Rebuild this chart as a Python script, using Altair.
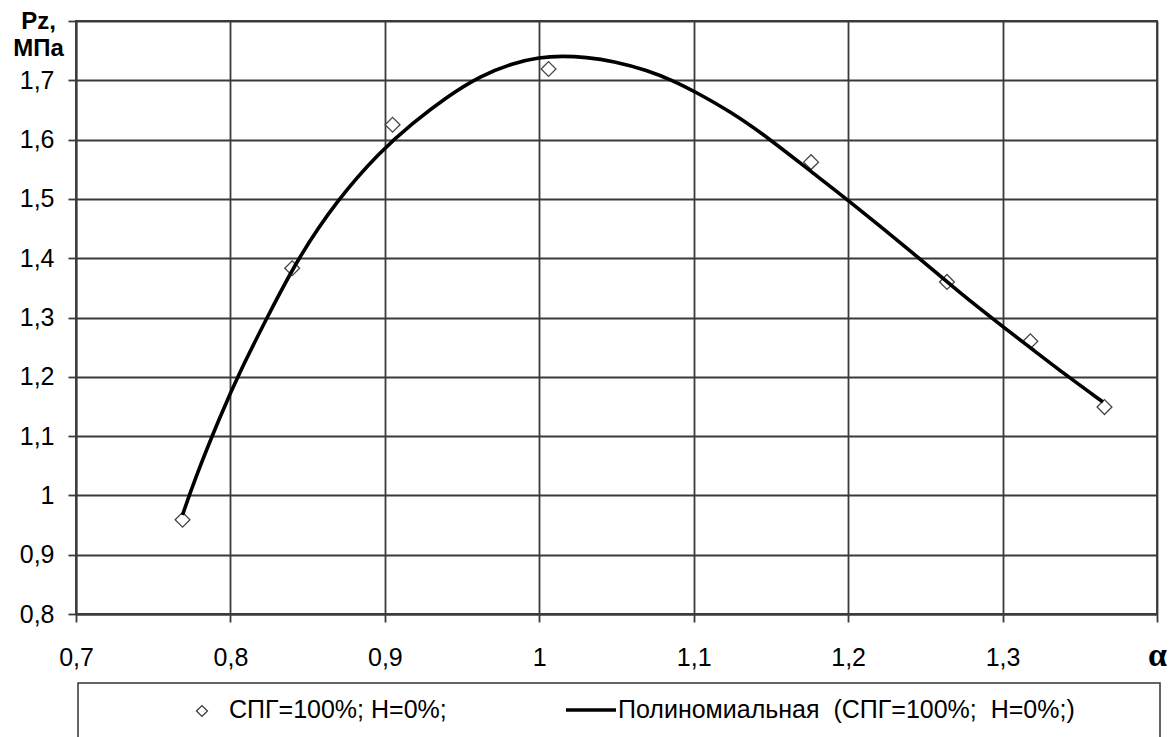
import altair as alt
import pandas as pd

# measured points (alpha, Pz)
pt_x = [0.769, 0.840, 0.905, 1.006, 1.176, 1.264, 1.318, 1.366]
pt_y = [0.959, 1.383, 1.625, 1.719, 1.562, 1.360, 1.260, 1.149]

# polynomial trend line
cx = [0.769, 0.776, 0.793, 0.8075, 0.824, 0.843, 0.869, 0.897, 0.918, 0.940,
      0.962, 0.983, 1.000, 1.015, 1.030, 1.048, 1.070, 1.087, 1.100, 1.124,
      1.148, 1.175, 1.200, 1.245, 1.2725, 1.300, 1.320, 1.342, 1.365]
cy = [0.967, 1.021, 1.132, 1.2165, 1.301, 1.397, 1.498, 1.580, 1.628, 1.672,
      1.708, 1.729, 1.739, 1.741, 1.739, 1.7325, 1.717, 1.699, 1.682, 1.647,
      1.6035, 1.548, 1.498, 1.4025, 1.341, 1.285, 1.245, 1.201, 1.1575]

x_ticks = [0.7, 0.8, 0.9, 1.0, 1.1, 1.2, 1.3, 1.4]
y_ticks = [0.8, 0.9, 1.0, 1.1, 1.2, 1.3, 1.4, 1.5, 1.6, 1.7, 1.8]

NB = "\u00a0"
legend_points = "СПГ=100%;" + NB + "Н=0%;"
legend_line = "Полиномиальная" + NB + NB + "(СПГ=100%;" + NB + NB + "Н=0%;)"

pts = pd.DataFrame({"a": pt_x, "p": pt_y})
crv = pd.DataFrame({"a": cx, "p": cy})
dummy = pd.DataFrame({"k": [0]})

GRID = "#3a3a3a"

x_enc = alt.X(
    "a:Q",
    scale=alt.Scale(domain=[0.7, 1.4], nice=False, zero=False),
    axis=alt.Axis(
        values=x_ticks,
        title=None,
        grid=True,
        labelFlush=False,
        labelOverlap=False,
        labelBaseline="alphabetic",
        labelPadding=43,
        labelExpr="datum.value > 1.35 ? 'α' : (abs(datum.value - 1) < 0.001 ? '1' : replace(format(datum.value, '.1f'), '.', ','))",
        labelFont={"condition": {"test": "datum.value > 1.35", "value": "Liberation Serif"}, "value": "Liberation Sans"},
        labelFontSize={"condition": {"test": "datum.value > 1.35", "value": 34}, "value": 25},
        labelFontWeight={"condition": {"test": "datum.value > 1.35", "value": "bold"}, "value": "normal"},
    ),
)
y_enc = alt.Y(
    "p:Q",
    scale=alt.Scale(domain=[0.8, 1.8], nice=False, zero=False),
    axis=alt.Axis(
        values=y_ticks,
        title=["Pz,", "МПа"],
        titleAngle=0,
        titleAlign="center",
        titleBaseline="top",
        titleX=-38,
        titleY=-12,
        titleFontSize=24,
        titleFontWeight="bold",
        titleLineHeight=27,
        titleColor="#000000",
        grid=True,
        labelOverlap=False,
        labelPadding=14,
        labelFontSize=25,
        labelExpr="datum.value > 1.75 ? '' : (abs(datum.value - 1) < 0.001 ? '1' : replace(format(datum.value, '.1f'), '.', ','))",
    ),
)

points = alt.Chart(pts).mark_point(
    shape="diamond", size=220, filled=True, fill="white", stroke="#454545", strokeWidth=1.3, opacity=1
).encode(x=x_enc, y=y_enc)

line = alt.Chart(crv).mark_line(color="black", strokeWidth=3.6, interpolate="basis").encode(
    x="a:Q", y="p:Q"
)

box = alt.Chart(dummy).mark_rect(fill="white", stroke="#333333", strokeWidth=1.5).encode(
    x=alt.value(2), x2=alt.value(1084), y=alt.value(662), y2=alt.value(760)
)
leg_diamond = alt.Chart(dummy).mark_point(
    shape="diamond", size=120, filled=True, fill="white", stroke="#333333", strokeWidth=1.2, opacity=1
).encode(x=alt.value(126), y=alt.value(690))
leg_text1 = alt.Chart(dummy).mark_text(
    align="left", baseline="middle", fontSize=25, font="Liberation Sans", color="#000000"
).encode(x=alt.value(153), y=alt.value(689), text=alt.value(legend_points))
leg_rule = alt.Chart(dummy).mark_rule(color="black", strokeWidth=3.5).encode(
    x=alt.value(490), x2=alt.value(540), y=alt.value(689)
)
leg_text2 = alt.Chart(dummy).mark_text(
    align="left", baseline="middle", fontSize=25, font="Liberation Sans", color="#000000"
).encode(x=alt.value(542), y=alt.value(689), text=alt.value(legend_line))

chart = alt.layer(points, line, box, leg_diamond, leg_text1, leg_rule, leg_text2).properties(
    width=1081,
    height=593,
    padding={"left": 76, "top": 21, "right": 19, "bottom": 123},
    autosize=alt.AutoSizeParams(type="none"),
    background="white",
).configure(
    font="Liberation Sans",
).configure_view(
    stroke=GRID, strokeWidth=1.8
).configure_axis(
    gridColor=GRID, gridWidth=1.8, gridOpacity=1,
    domainColor=GRID, domainWidth=1.8,
    tickColor=GRID, tickWidth=1.8, tickSize=8,
    labelColor="#000000", labelFont="Liberation Sans",
)

chart.save("out.html", embed_options={"renderer": "svg", "actions": False})
